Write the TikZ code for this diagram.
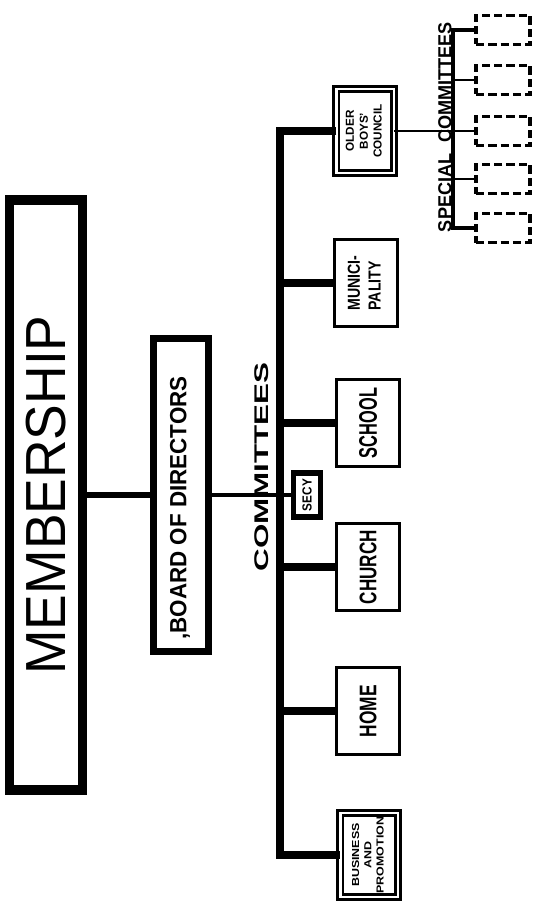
\documentclass[tikz,border=0pt]{standalone}
\usepackage{fontspec}
\usepackage{graphicx}
\setmainfont{Liberation Sans}

% text that runs bottom to top, stretched to a given length and height
\newcommand{\uptext}[3]{\rotatebox{90}{\resizebox*{#1}{#2}{#3}}}

\begin{document}
\begin{tikzpicture}[x={(0.03cm,0cm)},y={(0cm,-0.03cm)},
 every node/.style={inner sep=0pt,outer sep=0pt},
 combox/.style={draw,line width=3pt,minimum width=1.88cm,minimum height=2.6cm},
 dblbox/.style={draw,double,line width=2.4pt,double distance=2pt,
 minimum width=1.72cm,minimum height=2.52cm},
 spbox/.style={draw,line width=2.6pt,dash pattern=on 7pt off 3.5pt,
 minimum width=1.62cm,minimum height=0.87cm},
 trunk/.style={line width=7.5pt}]
 \useasboundingbox (0,0) rectangle (538,905);
 \coordinate (tk) at (280,0);
 \coordinate (sx) at (453,0);

 \node[draw,line width=8pt,minimum width=2.18cm,minimum height=17.7cm] (mem)
 at (46,495) {\uptext{10.77cm}{1.2cm}{MEMBERSHIP}};
 \node[draw,line width=6pt,minimum width=1.65cm,minimum height=9.39cm] (bod)
 at (181,495) {};
 \node (bodlbl) at (180,508) {\uptext{7.9cm}{0.6cm}{\bfseries ,BOARD OF DIRECTORS}};
 \node[draw,line width=5pt,minimum width=0.81cm,minimum height=1.32cm] (secy)
 at (307,495) {\uptext{0.96cm}{0.28cm}{\bfseries SECY}};
 \node (comlbl) at (262,467) {\uptext{6.27cm}{0.42cm}{\bfseries COMMITTEES}};

 % committees
 \node[dblbox] (obc) at (365,131)
 {\uptext{1.6cm}{1.25cm}{\bfseries\begin{tabular}{@{}c@{}}OLDER\\BOYS'\\COUNCIL\end{tabular}}};
 \node[combox] (muni) at (366,283)
 {\uptext{1.65cm}{1.25cm}{\bfseries\begin{tabular}{@{}l@{}}MUNICI-\\PALITY\end{tabular}}};
 \node[combox] (school) at (368,423) {\uptext{2.1cm}{0.54cm}{\bfseries SCHOOL}};
 \node[combox] (church) at (368,567) {\uptext{2.22cm}{0.51cm}{\bfseries CHURCH}};
 \node[combox] (home) at (368,711) {\uptext{1.56cm}{0.51cm}{\bfseries HOME}};
 \node[dblbox] (bus) at (369,855)
 {\uptext{2.3cm}{1.1cm}{\bfseries\begin{tabular}{@{}c@{}}BUSINESS\\AND\\PROMOTION\end{tabular}}};

 % special committees
 \foreach \i/\y in {1/30,2/80,3/131,4/179,5/228}
 \node[spbox] (sp\i) at (503,\y) {};
 \node (splbl) at (445,127) {\uptext{6.3cm}{0.4cm}{\bfseries SPECIAL\hspace{0.6em}COMMITTEES}};

 \draw[line width=5pt] (mem.east) -- (bod.west);
 \draw[line width=4pt] (bod.east) -- (bod.east -| tk) -- (secy.west);
 \draw[trunk] (obc.west) -- (obc.west -| tk) -- (bus.west -| tk) -- (bus.west);
 \foreach \c in {muni,school,church,home}
 \draw[trunk] (\c.west -| tk) -- (\c.west);
 \draw[line width=2.5pt] (obc.east) -- (obc.east -| sx);
 \draw[line width=3pt] (sp1.west) -- (sp1.west -| sx) -- (sp5.west -| sx) -- (sp5.west);
 \foreach \i in {2,3,4}
 \draw[line width=2pt] (sp\i.west -| sx) -- (sp\i.west);
\end{tikzpicture}
\end{document}
